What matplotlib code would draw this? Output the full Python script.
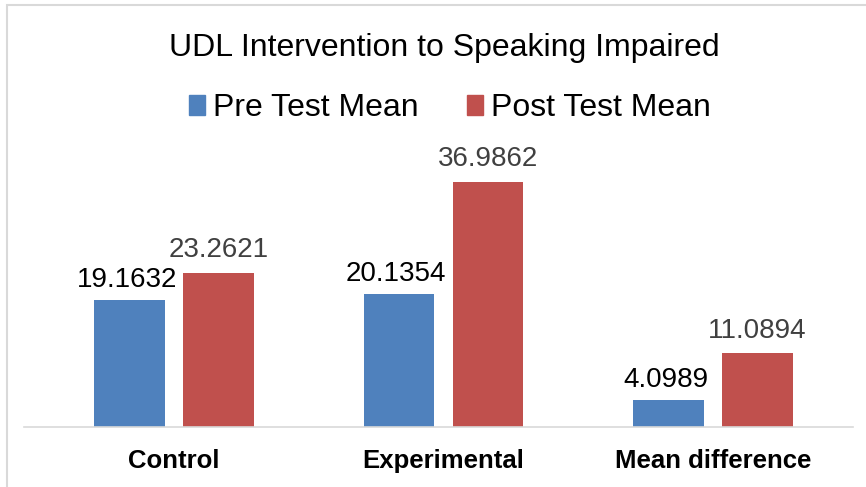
import numpy as np
import matplotlib as mpl
mpl.use('Agg')
import matplotlib.pyplot as plt
from matplotlib.patches import Patch, Rectangle

plt.rcParams['font.family'] = ['Liberation Sans', 'DejaVu Sans']

categories = ['Control', 'Experimental', 'Mean difference']
pre_mean = [19.1632, 20.1354, 4.0989]
post_mean = [23.2621, 36.9862, 11.0894]
series_names = ['Pre Test Mean', 'Post Test Mean']

blue = '#4F81BD'
red = '#C0504D'

fig = plt.figure(figsize=(8.66, 4.87), dpi=100)
ax = fig.add_axes([24/866, 60/487, 829/866, 287/487])

x = np.arange(len(categories))
w = 0.263
off = 0.165
b1 = ax.bar(x - off, pre_mean, w, color=blue)
b2 = ax.bar(x + off, post_mean, w, color=red)

for rect, v in zip(b1, pre_mean):
    ax.annotate(f'{v:.4f}', (rect.get_x() + rect.get_width()/2, v),
                xytext=(-2, 5), textcoords='offset points',
                ha='center', va='bottom', fontsize=20, color='black')
for rect, v in zip(b2, post_mean):
    ax.annotate(f'{v:.4f}', (rect.get_x() + rect.get_width()/2, v),
                xytext=(0, 7), textcoords='offset points',
                ha='center', va='bottom', fontsize=20, color='#404040')

ax.set_xlim(-0.557, 2.52)
ax.set_ylim(0, 43.3)
ax.set_yticks([])
ax.set_xticks(x)
ax.set_xticklabels(categories, fontsize=18.5, fontweight='bold')
ax.tick_params(axis='x', length=0, pad=16)
for s in ['top', 'left', 'right']:
    ax.spines[s].set_visible(False)
ax.spines['bottom'].set_color('#D9D9D9')
ax.spines['bottom'].set_linewidth(1.2)

fig.text(444/866, 1 - 48/487, 'UDL Intervention to Speaking Impaired',
         ha='center', va='center', fontsize=23)

handles = [Patch(color=blue), Patch(color=red)]
fig.legend(handles, series_names, loc='center', bbox_to_anchor=(450/866, 1 - 108/487),
           ncol=2, frameon=False, fontsize=23, handlelength=0.5, handleheight=0.6,
           handletextpad=0.25, columnspacing=1.5, borderpad=0)

# outer chart border (only left and top visible in the crop)
fig.patches.append(Rectangle((7/866, -0.1), 1.2, 1.1 - 5/487,
                             transform=fig.transFigure, fill=False,
                             edgecolor='#D9D9D9', linewidth=1.5, clip_on=False))

fig.savefig('out.png', dpi=100)
